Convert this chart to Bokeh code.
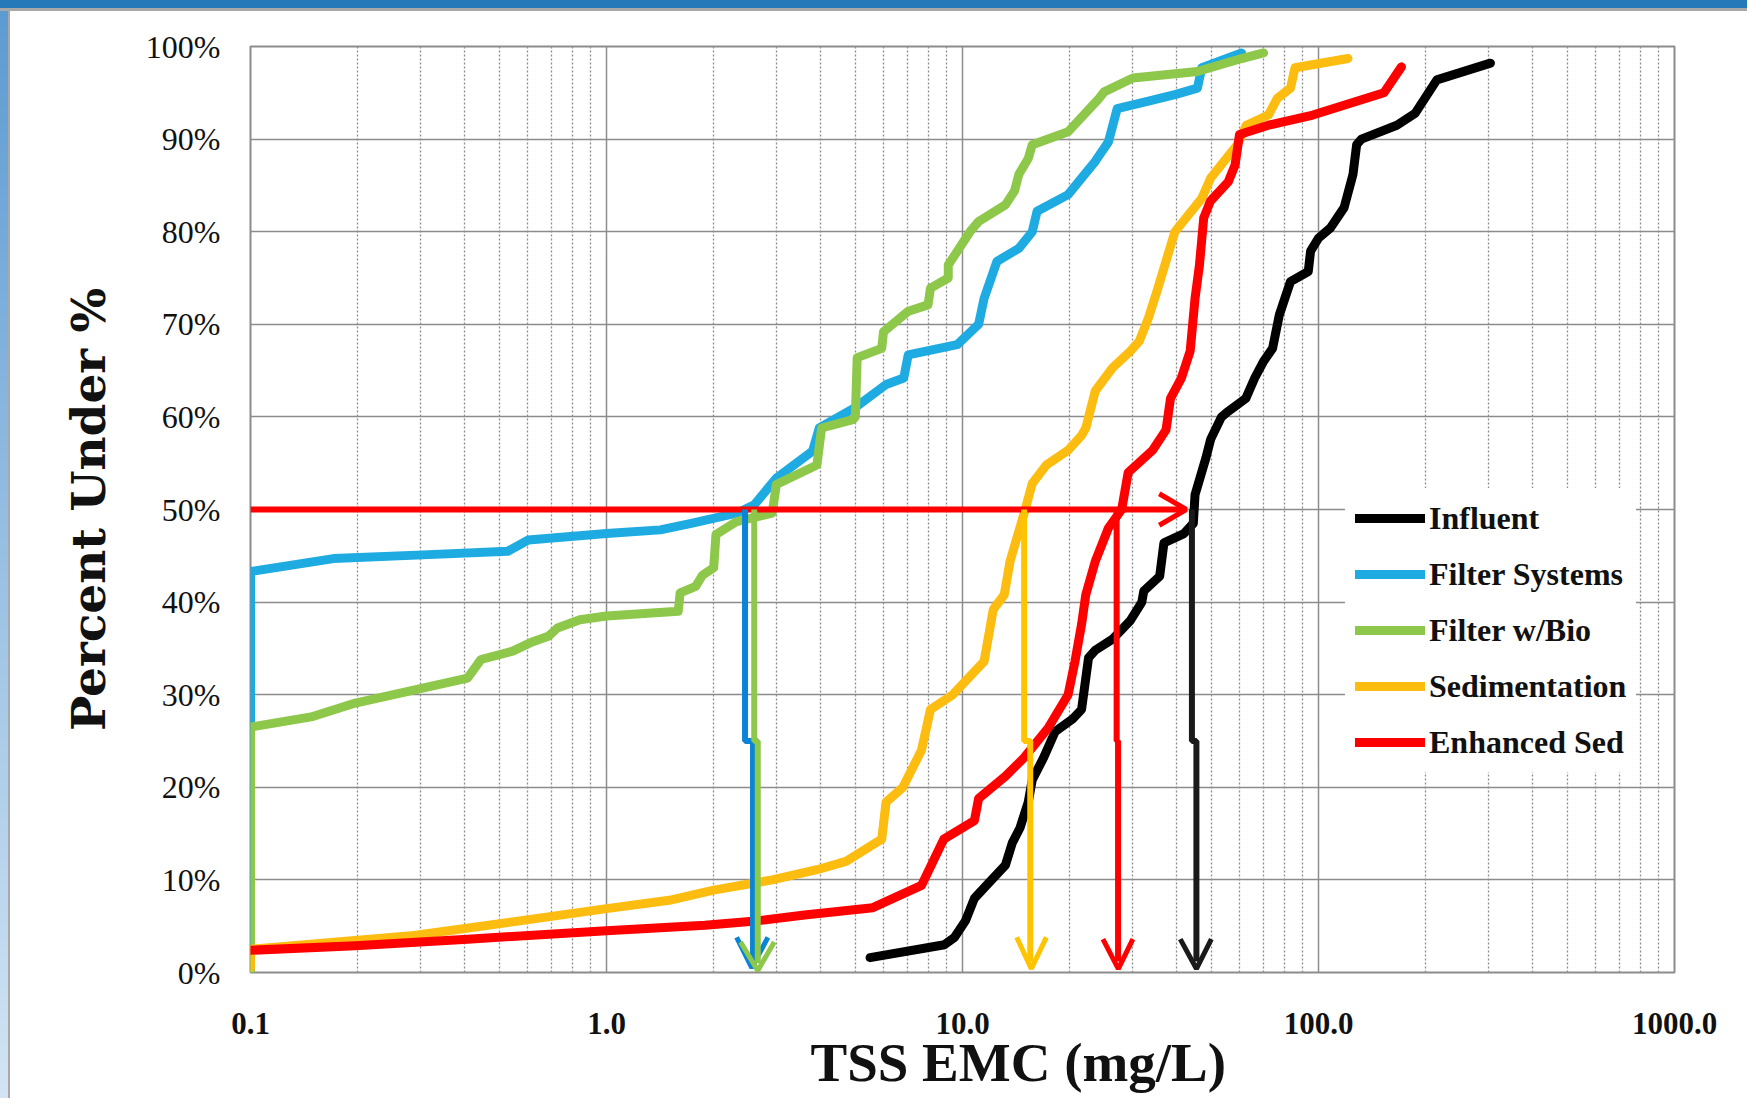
from bokeh.plotting import figure
from bokeh.models import FixedTicker, PrintfTickFormatter, Legend, LegendItem, Title, InlineStyleSheet
from bokeh.embed import file_html
from bokeh.resources import INLINE

# ---------------- data (TSS EMC in mg/L, cumulative percent under) ----------------
series_names = ["Influent", "Filter Systems", "Filter w/Bio", "Sedimentation", "Enhanced Sed"]

influent_x = [5.5, 8.9, 9.5, 10.2, 10.8, 11.8, 13.2, 13.8, 14.5, 15.3,
              15.7, 16.9, 18.2, 20.4, 21.6, 22.6, 23.6, 26.4, 29.6, 31.9,
              32.3, 35.8, 36.8, 41.9, 44.5, 45.0, 48.3, 49.8, 53.4, 55.8,
              62.5, 66.2, 70.1, 74.3, 77.6, 83.4, 93.6, 95.0, 100.0, 108.0,
              118.0, 125.0, 128.0, 132.0, 166.0, 187.0, 215.0, 304.0]
influent_pct = [1.6, 3.0, 3.8, 5.6, 8.0, 9.6, 11.6, 14.0, 15.6, 18.4,
                20.8, 23.2, 26.0, 27.4, 28.4, 34.0, 34.8, 36.0, 38.0, 40.0,
                41.2, 42.8, 46.4, 47.4, 48.5, 51.6, 55.6, 57.6, 60.0, 60.6,
                62.0, 64.2, 66.0, 67.4, 71.0, 74.6, 75.7, 77.9, 79.3, 80.4,
                82.6, 86.2, 89.4, 90.0, 91.5, 92.8, 96.4, 98.2]

filter_x = [0.1, 0.1, 0.171, 0.305, 0.528, 0.603, 1.0, 1.416, 1.73, 2.32,
            2.6, 3.0, 3.79, 3.96, 4.99, 6.1, 6.84, 7.04, 9.66, 11.1,
            11.5, 12.5, 14.4, 15.7, 16.2, 19.8, 23.6, 25.7, 27.2, 33.3,
            39.5, 45.7, 47.0, 60.8]
filter_pct = [0.0, 43.3, 44.7, 45.1, 45.5, 46.7, 47.4, 47.8, 48.5, 49.6,
              50.5, 53.4, 56.3, 58.8, 61.0, 63.5, 64.2, 66.7, 67.8, 70.0,
              72.8, 76.8, 78.2, 80.0, 82.2, 84.0, 87.6, 89.7, 93.3, 94.1,
              94.8, 95.5, 97.7, 99.3]

bio_x = [0.1, 0.1, 0.148, 0.197, 0.407, 0.444, 0.545, 0.61, 0.686, 0.728,
         0.841, 1.0, 1.59, 1.61, 1.78, 1.86, 2.0, 2.03, 2.32, 2.92,
         3.0, 3.9, 4.02, 4.92, 5.0, 5.06, 5.93, 6.0, 7.04, 8.0,
         8.13, 9.12, 9.12, 10.5, 11.1, 13.2, 14.0, 14.4, 15.3, 15.7,
         19.8, 24.2, 25.0, 30.1, 45.7, 52.7, 60.8, 70.1]
bio_pct = [0.0, 26.5, 27.6, 29.1, 31.8, 33.8, 34.7, 35.6, 36.3, 37.2,
           38.1, 38.5, 39.0, 41.0, 41.7, 42.9, 43.7, 47.3, 48.7, 49.6,
           52.7, 54.8, 58.8, 59.7, 60.0, 66.4, 67.4, 69.2, 71.4, 72.1,
           73.9, 75.0, 76.4, 80.0, 81.1, 82.9, 84.4, 86.2, 87.9, 89.4,
           90.8, 94.4, 95.1, 96.6, 97.3, 98.0, 98.7, 99.3]

sed_x = [0.1, 0.1, 0.288, 0.577, 1.0, 1.5, 2.0, 2.92, 3.9, 4.71,
         5.93, 6.1, 6.8, 7.67, 8.13, 9.39, 11.5, 12.2, 13.1, 13.6,
         14.9, 15.7, 17.2, 19.8, 21.6, 22.2, 23.6, 26.4, 29.6, 31.4,
         33.3, 35.2, 39.5, 47.0, 49.8, 59.2, 62.7, 72.3, 76.6, 83.4,
         85.9, 121.0]
sed_pct = [0.5, 2.5, 4.0, 5.6, 6.9, 7.8, 8.9, 10.0, 11.1, 12.0,
           14.4, 18.4, 20.0, 24.0, 28.4, 30.0, 33.6, 39.2, 40.8, 44.4,
           49.6, 52.8, 54.8, 56.4, 58.0, 58.8, 62.8, 65.3, 67.1, 68.2,
           70.7, 73.6, 80.0, 83.6, 85.8, 89.4, 91.5, 92.6, 94.4, 95.5,
           97.7, 98.7]

enh_x = [0.1, 0.197, 0.407, 1.0, 1.89, 2.68, 3.6, 5.6, 7.67, 8.86,
         10.8, 11.1, 13.2, 14.9, 17.4, 19.8, 20.7, 21.6, 22.2, 23.6,
         25.7, 28.0, 29.2, 34.2, 37.3, 38.4, 41.2, 43.6, 45.0, 46.3,
         47.6, 49.7, 55.8, 58.3, 60.0, 72.3, 96.4, 152.7, 171.0]
enh_pct = [2.4, 2.9, 3.6, 4.5, 5.1, 5.6, 6.2, 7.0, 9.4, 14.4,
           16.4, 18.8, 21.2, 23.2, 26.4, 30.0, 33.6, 37.6, 40.8, 44.4,
           48.0, 50.0, 54.0, 56.4, 58.6, 62.0, 64.2, 67.1, 72.8, 76.4,
           81.5, 83.3, 85.4, 87.2, 90.5, 91.5, 92.6, 95.0, 97.8]

# median (50 %) read-off arrows, in data units
median_pct = 50
jog_pct = 25
h_arrow_x = [0.1, 42.5]
h_head_x = [35.7, 42.5, 35.7]
h_head_pct = [51.7, 50.0, 48.3]
v_upper_x = [2.45, 2.60, 14.9, 27.1, 44.1]
v_lower_x = [2.58, 2.66, 15.5, 27.35, 45.4]
v_head_left_x = [2.32, 2.38, 14.2, 24.8, 40.9]
v_head_tip_x = [2.56, 2.66, 15.6, 27.4, 45.4]
v_head_right_x = [2.84, 2.96, 17.2, 30.1, 50.0]
v_head_wing_pct = [3.8, 3.3, 3.8, 3.6, 3.6]
v_head_tip_pct = [0.5, 0.2, 0.4, 0.4, 0.4]

x_ticks = [0.1, 1.0, 10.0, 100.0, 1000.0]
x_minor = [d * k for d in [0.1, 1.0, 10.0, 100.0] for k in range(2, 10)]
y_ticks = [0, 10, 20, 30, 40, 50, 60, 70, 80, 90, 100]
x_title = "TSS EMC (mg/L)"
y_title = "Percent Under %"

# ---------------- styles ----------------
curve_colors = ["#000000", "#1DABE2", "#8EC84B", "#FDBD10", "#FF0000"]
arrow_colors = ["#0A84D6", "#8EC84B", "#FFC400", "#FF0000", "#1A1A1A"]
grid_col = "#8C8C8C"

p = figure(width=1747, height=1098, x_axis_type="log",
           x_range=(0.1, 1000), y_range=(0, 100),
           output_backend="svg", toolbar_location=None,
           min_border_left=250, min_border_right=73,
           min_border_top=46, min_border_bottom=126)
p.background_fill_color = "white"
p.border_fill_color = "white"
p.outline_line_color = grid_col
p.outline_line_width = 2

# slide frame decoration (blue band at top, light strip at left)
p.stylesheets = [InlineStyleSheet(css="""
:host { position: relative; }
:host::before { content: ""; position: absolute; left: 0; top: 0; width: 100%; height: 8px;
  background: #2679B8; border-bottom: 3px solid #A8A8A8; z-index: 50; pointer-events: none; }
:host::after { content: ""; position: absolute; left: 0; top: 11px; width: 8px; height: calc(100% - 11px);
  background: linear-gradient(#5C9BD1, #D3E4F4); border-right: 2px solid #A8A8A8; z-index: 50; pointer-events: none; }
""")]

xt = FixedTicker(ticks=x_ticks, minor_ticks=x_minor)
yt = FixedTicker(ticks=y_ticks)
p.xaxis.ticker = xt
p.yaxis.ticker = yt
p.xgrid.ticker = xt
p.ygrid.ticker = yt
p.xaxis.formatter = PrintfTickFormatter(format="%.1f")
p.yaxis.formatter = PrintfTickFormatter(format="%d%%")

for ax in (p.xaxis, p.yaxis):
    ax.axis_line_color = None
    ax.major_tick_line_color = None
    ax.minor_tick_line_color = None
    ax.major_tick_out = 0
    ax.major_tick_in = 0
    ax.minor_tick_out = 0
    ax.minor_tick_in = 0
    ax.major_label_text_font = "Liberation Serif"
    ax.major_label_text_font_size = "31px"
    ax.major_label_text_color = "#111111"

p.yaxis.major_label_text_font_size = "32px"
p.xaxis.major_label_text_font_style = "bold"
p.xaxis.major_label_standoff = 40
p.yaxis.major_label_standoff = 30

p.yaxis.axis_label = y_title
p.yaxis.axis_label_text_font = "DejaVu Serif"
p.yaxis.axis_label_text_font_style = "bold"
p.yaxis.axis_label_text_font_size = "47px"
p.yaxis.axis_label_text_color = "#111111"
p.yaxis.axis_label_standoff = 27

xtitle = Title(text=x_title, align="left", offset=560, standoff=-14,
               text_font="Liberation Serif", text_font_style="bold",
               text_font_size="55px", text_color="#111111")
p.add_layout(xtitle, "below")

p.xgrid.grid_line_color = grid_col
p.xgrid.grid_line_width = 1.5
p.xgrid.minor_grid_line_color = grid_col
p.xgrid.minor_grid_line_width = 1.3
p.xgrid.minor_grid_line_dash = "2 2"
p.ygrid.grid_line_color = grid_col
p.ygrid.grid_line_width = 1.5

xs_all = [influent_x, filter_x, bio_x, sed_x, enh_x]
ys_all = [influent_pct, filter_pct, bio_pct, sed_pct, enh_pct]
renderers = []
for xs, ys, c in zip(xs_all, ys_all, curve_colors):
    r = p.line(xs, ys, line_color=c, line_width=9, line_join="round", line_cap="round")
    renderers.append(r)

# horizontal 50% arrow
p.line(h_arrow_x, [median_pct, median_pct], line_color="#FF0000", line_width=6)
p.line(h_head_x, h_head_pct, line_color="#FF0000", line_width=5)

# vertical read-off arrows
for i, c in enumerate(arrow_colors):
    p.line([v_upper_x[i], v_upper_x[i], v_lower_x[i], v_lower_x[i]],
           [median_pct, jog_pct, jog_pct, v_head_tip_pct[i] + 0.8],
           line_color=c, line_width=6)
    p.line([v_head_left_x[i], v_head_tip_x[i], v_head_right_x[i]],
           [v_head_wing_pct[i], v_head_tip_pct[i], v_head_wing_pct[i]],
           line_color=c, line_width=5)

legend = Legend(items=[LegendItem(label=n, renderers=[r]) for n, r in zip(series_names, renderers)],
                location=(1095, 200), margin=0, padding=10, spacing=16,
                glyph_width=70, glyph_height=40, label_height=40, label_standoff=4,
                label_text_font="Liberation Serif", label_text_font_style="bold",
                label_text_font_size="32px", label_text_color="#111111",
                border_line_alpha=0, background_fill_color="white", background_fill_alpha=1)
p.add_layout(legend)

open("out.html", "w").write(file_html(p, INLINE))
